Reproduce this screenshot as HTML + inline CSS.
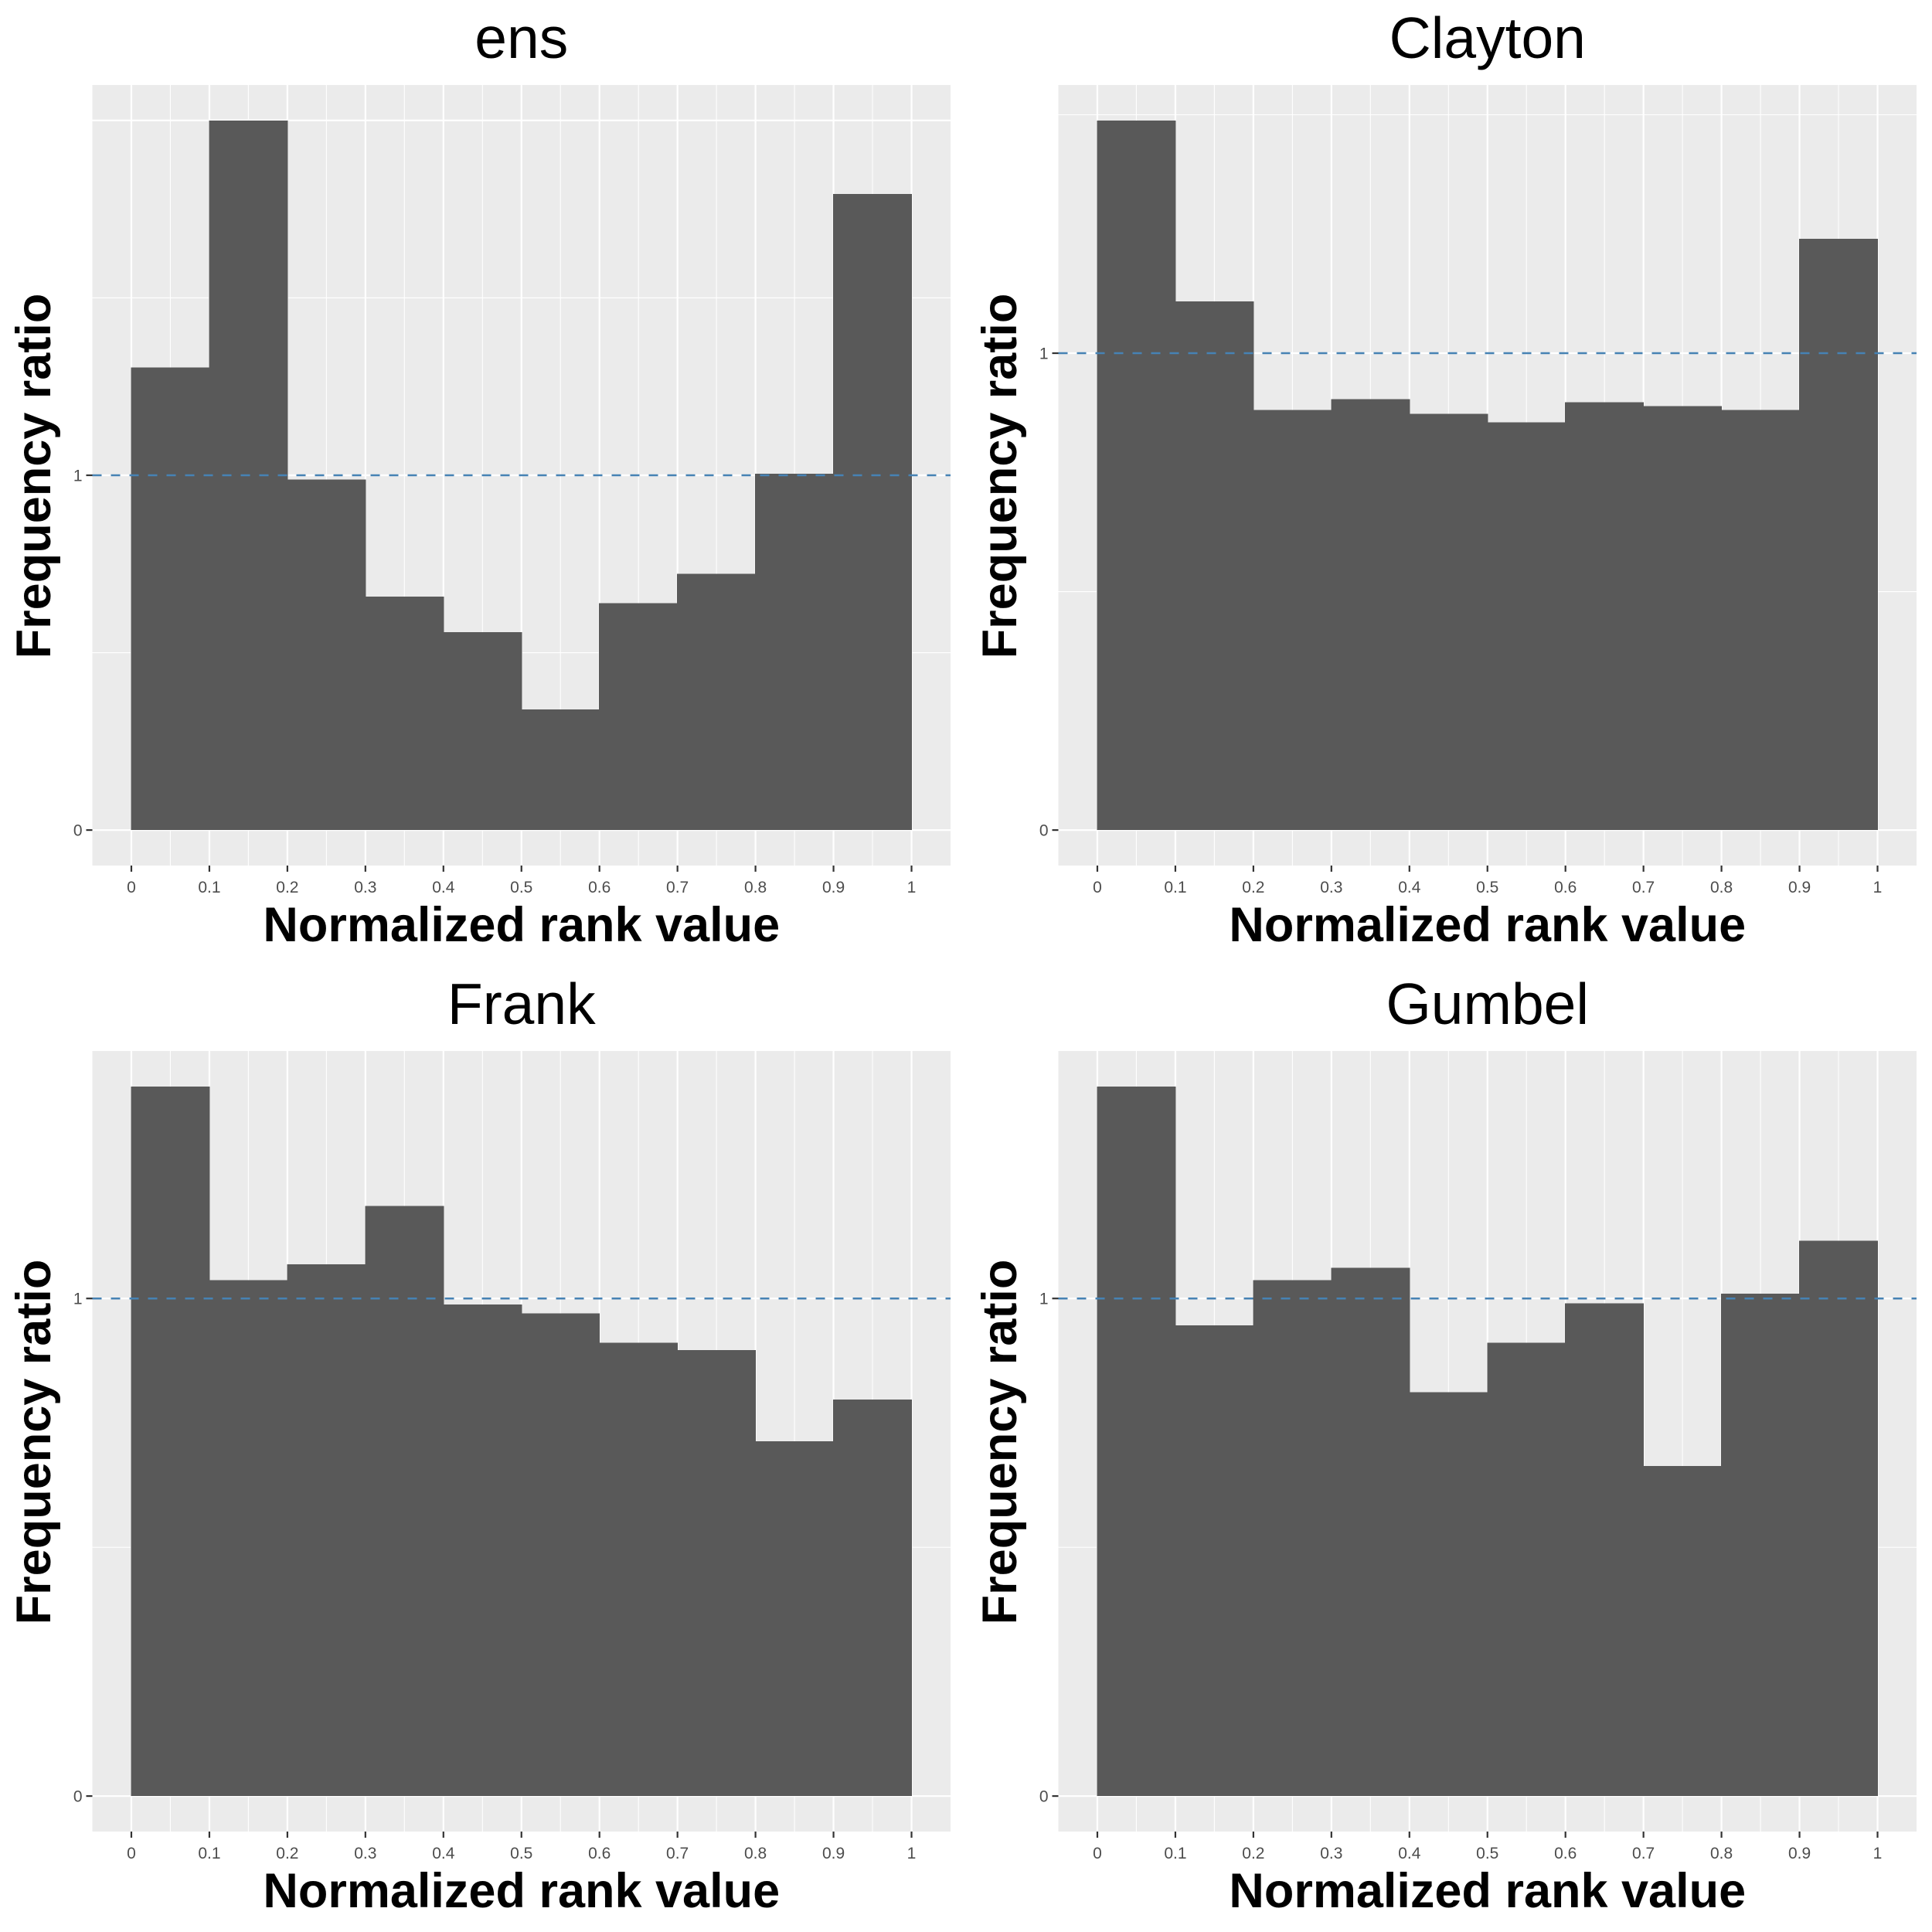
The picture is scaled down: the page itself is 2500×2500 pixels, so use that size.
<!DOCTYPE html>
<html><head><meta charset="utf-8"><style>
html,body{margin:0;padding:0;background:#fff;}
svg{display:block;}
text{font-family:"Liberation Sans",Arial,sans-serif;}
</style></head><body>
<svg id="chart" width="2500" height="2500" viewBox="0 0 2500 2500" xmlns="http://www.w3.org/2000/svg"></svg>
<script>
const panelTitles = ["ens", "Clayton", "Frank", "Gumbel"];
const binStarts = [0, 0.1, 0.2, 0.3, 0.4, 0.5, 0.6, 0.7, 0.8, 0.9];
const ensValues = [1.304, 2.0, 0.988, 0.658, 0.558, 0.34, 0.639, 0.722, 1.004, 1.793];
const claytonValues = [1.488, 1.109, 0.881, 0.904, 0.873, 0.855, 0.897, 0.889, 0.881, 1.240];
const frankValues = [1.426, 1.037, 1.069, 1.186, 0.988, 0.970, 0.911, 0.896, 0.713, 0.797];
const gumbelValues = [1.426, 0.946, 1.037, 1.062, 0.812, 0.911, 0.990, 0.663, 1.010, 1.116];
const xTickLabels = ["0","0.1","0.2","0.3","0.4","0.5","0.6","0.7","0.8","0.9","1"];
const yTickLabels = ["0","1"];
const refLine = 1;

const NS = "http://www.w3.org/2000/svg";
const svg = document.getElementById("chart");
function mk(tag, attrs, parent){
  const e = document.createElementNS(NS, tag);
  for (const k in attrs) e.setAttribute(k, attrs[k]);
  (parent||svg).appendChild(e);
  return e;
}
const series = [ensValues, claytonValues, frankValues, gumbelValues];
const PL = 119.5, PR = 1230, PT = 110, PB = 1120;

series.forEach((vals, i) => {
  const ox = (i % 2) * 1250, oy = Math.floor(i / 2) * 1250;
  const g = mk("g", {});
  
  
  const vmax = Math.max(...vals);
  const yMin = -0.05 * vmax, yMax = 1.05 * vmax;
  const x = v => ox + PL + (v + 0.05) / 1.1 * (PR - PL);
  const y = v => oy + PB - (v - yMin) / (yMax - yMin) * (PB - PT);

  const bg = mk("rect", {x: ox+PL, y: oy+PT, width: PR-PL, height: PB-PT, fill: "#ebebeb"}, g);
  
  
  for (let k = 1; k < 20; k += 2) {
    const xv = k * 0.05;
    mk("line", {x1: x(xv), x2: x(xv), y1: oy+PT, y2: oy+PB, stroke: "#fff", "stroke-width": 1.1}, g);
  }
  for (let v = 0.5; v < yMax; v += 1) {
    mk("line", {x1: ox+PL, x2: ox+PR, y1: y(v), y2: y(v), stroke: "#fff", "stroke-width": 1.1}, g);
  }
  xTickLabels.forEach((lab, k) => {
    const xv = k * 0.1;
    mk("line", {x1: x(xv), x2: x(xv), y1: oy+PT, y2: oy+PB, stroke: "#fff", "stroke-width": 2.2}, g);
  });
  for (let v = 0; v < yMax; v += 1) {
    mk("line", {x1: ox+PL, x2: ox+PR, y1: y(v), y2: y(v), stroke: "#fff", "stroke-width": 2.2}, g);
  }
  // bars as single path to avoid seams
  let d = "";
  vals.forEach((v, j) => {
    const r = mk("rect", {x: x(binStarts[j]) - 0.5, y: y(v), width: x(binStarts[j]+0.1) - x(binStarts[j]) + 1, height: y(0) - y(v), fill: "#595959", "shape-rendering": "crispEdges"}, g);
    
    
  });
  const rl = mk("line", {x1: ox+PL, x2: ox+PR, y1: y(refLine), y2: y(refLine), stroke: "#4682b4", "stroke-width": 2.5, "stroke-dasharray": "12 12"}, g);
  
  
  xTickLabels.forEach((lab, k) => {
    const xv = k * 0.1;
    mk("line", {x1: x(xv), x2: x(xv), y1: oy+PB, y2: oy+PB+8, stroke: "#333", "stroke-width": 2.2}, g);
    const t = mk("text", {x: x(xv), y: oy+PB+35, "font-size": 21, fill: "#4d4d4d", "text-anchor": "middle"}, g);
    t.textContent = lab;
    
    
  });
  yTickLabels.forEach((lab, k) => {
    mk("line", {x1: ox+PL-8, x2: ox+PL, y1: y(k), y2: y(k), stroke: "#333", "stroke-width": 2.2}, g);
    const t = mk("text", {x: ox+PL-13, y: y(k)+7.5, "font-size": 21, fill: "#4d4d4d", "text-anchor": "end"}, g);
    t.textContent = lab;
    
    
  });
  const tt = mk("text", {x: ox + (PL+PR)/2, y: oy + 75, "font-size": 75, fill: "#000", "text-anchor": "middle"}, g);
  tt.textContent = panelTitles[i];
  
  
  const xt = mk("text", {x: ox + (PL+PR)/2, y: oy + 1218, "font-size": 63, "font-weight": "bold", fill: "#000", "text-anchor": "middle"}, g);
  xt.textContent = "Normalized rank value";
  
  
  const cy = oy + 616;
  const yt = mk("text", {x: ox + 65, y: cy, "font-size": 63, "font-weight": "bold", fill: "#000", "text-anchor": "middle", transform: "rotate(-90 " + (ox+65) + " " + cy + ")"}, g);
  yt.textContent = "Frequency ratio";
  
  
});
</script>
</body></html>
